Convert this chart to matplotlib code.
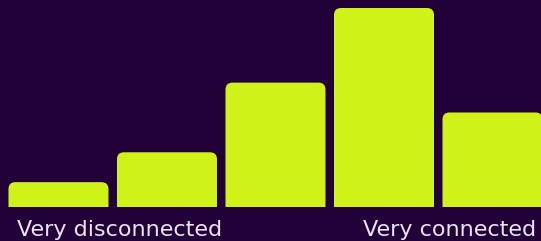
import matplotlib
matplotlib.use('Agg')
import matplotlib.pyplot as plt
from matplotlib.patches import FancyBboxPatch

# share of respondents per connectedness level (bar heights)
levels = ['1', '2', '3', '4', '5']
shares = [5, 11, 25, 40, 19]
end_labels = ['Very disconnected', 'Very connected']

BG = '#220038'
BAR = '#cff218'
TXT = '#ebe4f4'

W, H = 541, 241
fig = plt.figure(figsize=(W / 100, H / 100), dpi=100, facecolor=BG)
ax = fig.add_axes([0, 34 / H, 1, (H - 34) / H])
ax.set_facecolor(BG)
ax.set_xlim(-0.539, 4.447)
ax.set_ylim(0, 207 / 4.975)
ax.axis('off')

# pixel size of one data unit, for round corners
px_x = ax.transData.transform((1, 0))[0] - ax.transData.transform((0, 0))[0]
px_y = ax.transData.transform((0, 1))[1] - ax.transData.transform((0, 0))[1]
aspect = px_x / px_y
rad = 7 / px_x
width = 100 / 108.5
below = 20 / px_y  # start under the axis so bottom corners get clipped

for i, v in enumerate(shares):
    ax.add_patch(FancyBboxPatch((i - width / 2, -below), width, v + below,
                                boxstyle='round,pad=0,rounding_size=%f' % rad,
                                mutation_aspect=aspect, fc=BAR, ec='none'))

fig.text(17 / W, 5 / H, end_labels[0], color=TXT, fontsize=16,
         ha='left', va='baseline')
fig.text(536 / W, 5 / H, end_labels[1], color=TXT, fontsize=16,
         ha='right', va='baseline')

fig.savefig('out.png', dpi=100, facecolor=BG)
